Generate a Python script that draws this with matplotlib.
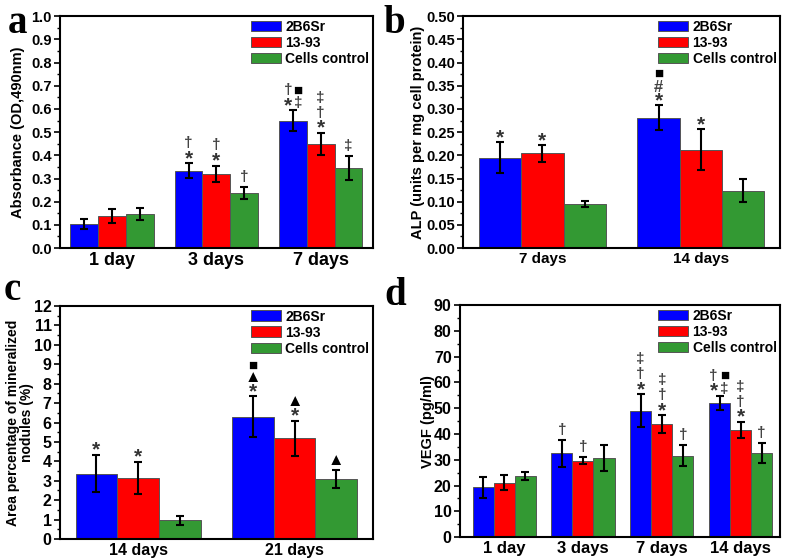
import matplotlib
matplotlib.use('Agg')
import matplotlib.pyplot as plt
import numpy as np
from matplotlib.ticker import MultipleLocator

plt.rcParams['font.family'] = ['Liberation Sans', 'DejaVu Sans']
plt.rcParams['font.weight'] = 'bold'

series = ['2B6Sr', '13-93', 'Cells control']
colors = ['#0000ff', '#ff0000', '#339933']

# panel a - absorbance
days_a = ['1 day', '3 days', '7 days']
abs_2b6sr = [0.104, 0.334, 0.550]
abs_1393 = [0.138, 0.321, 0.449]
abs_ctrl = [0.149, 0.237, 0.347]
abs_err_2b6sr = [0.023, 0.032, 0.044]
abs_err_1393 = [0.030, 0.035, 0.049]
abs_err_ctrl = [0.026, 0.025, 0.052]

# panel b - ALP
days_b = ['7 days', '14 days']
alp_2b6sr = [0.195, 0.281]
alp_1393 = [0.204, 0.212]
alp_ctrl = [0.095, 0.124]
alp_err_2b6sr = [0.033, 0.027]
alp_err_1393 = [0.018, 0.044]
alp_err_ctrl = [0.007, 0.025]

# panel c - mineralized nodules
days_c = ['14 days', '21 days']
nod_2b6sr = [3.37, 6.30]
nod_1393 = [3.14, 5.20]
nod_ctrl = [0.97, 3.09]
nod_err_2b6sr = [0.95, 1.05]
nod_err_1393 = [0.82, 0.90]
nod_err_ctrl = [0.23, 0.48]

# panel d - VEGF
days_d = ['1 day', '3 days', '7 days', '14 days']
vegf_2b6sr = [19.3, 32.5, 49.1, 52.0]
vegf_1393 = [21.1, 29.7, 43.8, 41.6]
vegf_ctrl = [23.7, 30.6, 31.5, 32.6]
vegf_err_2b6sr = [4.2, 5.2, 6.3, 2.8]
vegf_err_1393 = [2.8, 1.5, 3.5, 3.1]
vegf_err_ctrl = [1.6, 5.1, 4.1, 4.0]

# significance marks: (group, series, symbols bottom->top, dx px, start px)
marks_a = [(1, 0, '*†', 0, 0), (1, 1, '*†', 0, 0), (1, 2, '†', 0, 0),
           (2, 0, '*†', -5, 0), (2, 0, '‡■', 5, -3), (2, 1, '*†‡', 0, 0),
           (2, 2, '‡', 0, 0)]
marks_b = [(0, 0, '*', 0, 0), (0, 1, '*', 0, 0), (1, 0, '*#■', 0, 0),
           (1, 1, '*', 0, 0)]
marks_c = [(0, 0, '*', 0, 0), (0, 1, '*', 0, 0), (1, 0, '*▲■', 0, 0),
           (1, 1, '*▲', 0, 0), (1, 2, '▲', 0, 0)]
marks_d = [(1, 0, '†', 0, 0), (1, 1, '†', 0, 0), (2, 0, '*†‡', 0, 0),
           (2, 1, '*†‡', 0, 0), (2, 2, '†', 0, 0), (3, 0, '*†', -6, 0),
           (3, 0, '‡■', 5, -3), (3, 1, '*†‡', 0, 0), (3, 2, '†', 0, 0)]

SYM_H = {'*': 10, '†': 15, '‡': 15, '#': 13, '■': 11, '▲': 13}
SYM_SIZE = {'*': 15, '†': 11, '‡': 11, '#': 12, '■': 11, '▲': 12}
SYM_MID = {'*': 0.42, '†': 0.29, '‡': 0.29, '#': 0.36, '■': 0.3, '▲': 0.3}
SYM_COL = {'*': '#333333', '†': '#444444', '‡': '#444444', '#': '#444444',
           '■': 'black', '▲': 'black'}

W = 0.267


def stack(ax, x, top, syms, dx=0, start=0):
    y = start + 3
    for s in syms:
        c = y + SYM_H[s] / 2
        base = c - SYM_MID[s] * SYM_SIZE[s] * 100 / 72
        ax.annotate(s, (x, top), xytext=(dx * 0.72, base * 0.72),
                    textcoords='offset points', ha='center', va='baseline',
                    fontsize=SYM_SIZE[s], color=SYM_COL[s], fontweight='bold')
        y += SYM_H[s]


def panel(rect, cats, vals, errs, marks, ylim, major, minor, ylabel,
          xfs, yfs, label_x, xlim_left=0.5, lfs=10.5):
    ax = fig.add_axes(rect)
    x = np.arange(1, len(cats) + 1)
    for i in range(3):
        ax.bar(x + (i - 1) * W, vals[i], W, yerr=errs[i], color=colors[i],
               edgecolor='#555555', linewidth=0.7, label=series[i],
               error_kw=dict(ecolor='black', elinewidth=1.5, capsize=3,
                             capthick=1.5))
    for g, s, syms, dx, start in marks:
        stack(ax, x[g] + (s - 1) * W, vals[s][g] + errs[s][g], syms, dx, start)
    ax.set_xlim(xlim_left, len(cats) + 0.5)
    ax.set_ylim(*ylim)
    ax.set_xticks(x)
    ax.set_xticklabels(cats, fontsize=xfs, fontweight='bold')
    ax.yaxis.set_major_locator(MultipleLocator(major))
    ax.yaxis.set_minor_locator(MultipleLocator(minor))
    ax.tick_params(axis='x', length=0, pad=3)
    ax.tick_params(axis='y', which='major', length=4, width=1.2,
                   labelsize=yfs, pad=2)
    ax.tick_params(axis='y', which='minor', length=2.5, width=1)
    for sp in ax.spines.values():
        sp.set_linewidth(1.5)
    ax.set_ylabel(ylabel, fontsize=lfs, fontweight='bold', va='center',
                  ha='center', linespacing=1.0)
    ax.yaxis.set_label_coords(label_x, 0.5)
    ax.legend(loc='upper right', frameon=False, fontsize=10,
              handlelength=2.2, handleheight=0.8, handletextpad=0.3,
              labelspacing=0.15, borderaxespad=0.15, borderpad=0.1)
    return ax


fig = plt.figure(figsize=(8, 5.6), dpi=100)

panel([0.075, 0.557, 0.391, 0.414], days_a,
      [abs_2b6sr, abs_1393, abs_ctrl],
      [abs_err_2b6sr, abs_err_1393, abs_err_ctrl], marks_a,
      (0, 1.0), 0.1, 0.05, 'Absorbance (OD,490nm)', 13, 10.5, -0.134)

panel([0.579, 0.557, 0.396, 0.414], days_b,
      [alp_2b6sr, alp_1393, alp_ctrl],
      [alp_err_2b6sr, alp_err_1393, alp_err_ctrl], marks_b,
      (0, 0.5), 0.05, 0.025, 'ALP (units per mg cell protein)', 11, 10.5,
      -0.142)

panel([0.075, 0.0375, 0.391, 0.416], days_c,
      [nod_2b6sr, nod_1393, nod_ctrl],
      [nod_err_2b6sr, nod_err_1393, nod_err_ctrl], marks_c,
      (0, 12), 1, 0.5, 'Area percentage of mineralized\nnodules (%)', 11.5,
      11.5, -0.128, lfs=10)

panel([0.575, 0.041, 0.4, 0.414], days_d,
      [vegf_2b6sr, vegf_1393, vegf_ctrl],
      [vegf_err_2b6sr, vegf_err_1393, vegf_err_ctrl], marks_d,
      (0, 90), 10, 5, 'VEGF (pg/ml)', 12, 11.5, -0.1, xlim_left=0.44)

# panel letters
for lx, ly, letter in [(0.010, 0.941, 'a'), (0.479, 0.941, 'b'),
                       (0.004, 0.464, 'c'), (0.481, 0.455, 'd')]:
    fig.text(lx, ly, letter, fontsize=28, fontweight='bold',
             family='Liberation Serif', va='baseline')

fig.savefig('out.png', dpi=100)
